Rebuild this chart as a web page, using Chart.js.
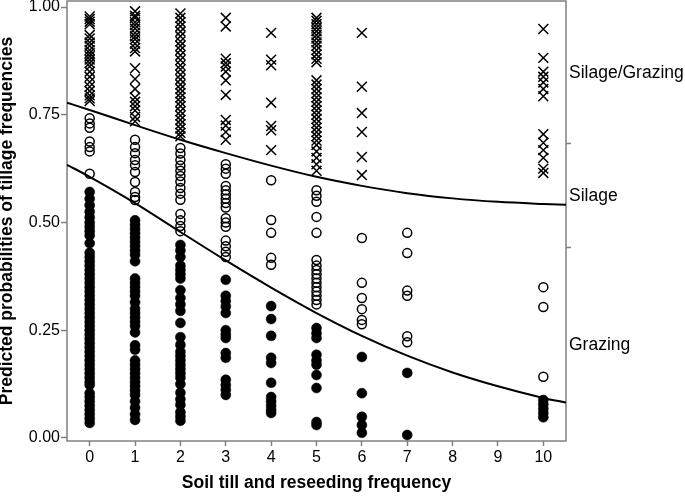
<!DOCTYPE html>
<html>
<head>
<meta charset="utf-8">
<script src="https://cdn.jsdelivr.net/npm/chart.js@4"></script>
<style>
  body { margin: 0; background: #fff; }
  #wrap { width: 685px; height: 497px; }
</style>
</head>
<body>
<div id="wrap"><canvas id="probChart" width="685" height="497"></canvas></div>
<script>
// axis ticks
const xTicks = [0, 1, 2, 3, 4, 5, 6, 7, 8, 9, 10];
const yTicks = [0, 0.25, 0.5, 0.75, 1];
const yTickLabels = ['0.00', '0.25', '0.50', '0.75', '1.00'];

// right side category labels and the boundary ticks between them
const rightTicks = [0.216, 0.443, 0.561, 0.684, 0.847];
const rightTickLabels = ['Grazing', '', 'Silage', '', 'Silage/Grazing'];

// observed frequencies (columns) that carry points
const freqs = [0, 1, 2, 3, 4, 5, 6, 7, 10];

// Silage/Grazing (x marks), one list per frequency column
const silageGrazingVals = [
  [0.978, 0.972, 0.966, 0.96, 0.935, 0.927, 0.918, 0.91, 0.9, 0.893, 0.886, 0.878, 0.87, 0.862, 0.85, 0.838, 0.826, 0.815, 0.805, 0.795, 0.788, 0.782],
  [0.99, 0.98, 0.975, 0.965, 0.958, 0.95, 0.94, 0.932, 0.925, 0.915, 0.905, 0.897, 0.858, 0.833, 0.81, 0.79, 0.78, 0.77, 0.76, 0.745, 0.735],
  [0.985, 0.975, 0.965, 0.955, 0.943, 0.932, 0.92, 0.91, 0.9, 0.888, 0.877, 0.865, 0.855, 0.843, 0.832, 0.82, 0.81, 0.8, 0.79, 0.78, 0.77, 0.758, 0.748, 0.738, 0.728, 0.718, 0.708, 0.7],
  [0.975, 0.955, 0.88, 0.87, 0.862, 0.85, 0.83, 0.796, 0.738, 0.725, 0.71, 0.692],
  [0.94, 0.878, 0.865, 0.778, 0.724, 0.714, 0.668],
  [0.975, 0.968, 0.96, 0.952, 0.944, 0.935, 0.927, 0.918, 0.91, 0.9, 0.89, 0.88, 0.872, 0.83, 0.82, 0.81, 0.8, 0.79, 0.78, 0.77, 0.76, 0.75, 0.74, 0.73, 0.72, 0.71, 0.7, 0.69, 0.68, 0.665, 0.65, 0.635, 0.62],
  [0.94, 0.815, 0.754, 0.71, 0.652, 0.61],
  [],
  [0.949, 0.882, 0.85, 0.838, 0.825, 0.81, 0.793, 0.705, 0.685, 0.668, 0.65, 0.625, 0.615]
];

// Silage (open circles)
const silageVals = [
  [0.742, 0.73, 0.72, 0.688, 0.675, 0.665, 0.613],
  [0.692, 0.675, 0.661, 0.645, 0.633, 0.617, 0.594, 0.571, 0.559, 0.552],
  [0.673, 0.66, 0.645, 0.632, 0.62, 0.608, 0.595, 0.58, 0.567, 0.553, 0.52, 0.505, 0.492, 0.48],
  [0.635, 0.625, 0.613, 0.585, 0.575, 0.565, 0.555, 0.545, 0.535, 0.51, 0.5, 0.49, 0.458, 0.445, 0.432, 0.42],
  [0.598, 0.506, 0.476, 0.418, 0.402],
  [0.575, 0.562, 0.548, 0.513, 0.476, 0.413, 0.4, 0.39, 0.38, 0.37, 0.36, 0.35, 0.34, 0.33, 0.32, 0.31],
  [0.464, 0.36, 0.325, 0.299, 0.274, 0.264],
  [0.476, 0.429, 0.342, 0.33, 0.236, 0.222],
  [0.35, 0.304, 0.142]
];

// Grazing (filled circles)
const grazingVals = [
  [0.571, 0.555, 0.54, 0.525, 0.512, 0.5, 0.49, 0.48, 0.47, 0.452, 0.43, 0.42, 0.41, 0.4, 0.39, 0.38, 0.37, 0.36, 0.35, 0.34, 0.33, 0.32, 0.31, 0.3, 0.29, 0.28, 0.27, 0.26, 0.25, 0.24, 0.23, 0.22, 0.21, 0.2, 0.19, 0.18, 0.17, 0.16, 0.15, 0.14, 0.13, 0.123, 0.104, 0.095, 0.085, 0.075, 0.065, 0.055, 0.045, 0.035],
  [0.505, 0.495, 0.485, 0.475, 0.465, 0.455, 0.445, 0.435, 0.425, 0.41, 0.37, 0.36, 0.35, 0.34, 0.33, 0.315, 0.3, 0.29, 0.28, 0.27, 0.26, 0.245, 0.215, 0.205, 0.18, 0.17, 0.16, 0.15, 0.14, 0.13, 0.12, 0.11, 0.1, 0.085, 0.07, 0.055, 0.042],
  [0.448, 0.435, 0.42, 0.4, 0.39, 0.38, 0.37, 0.343, 0.325, 0.31, 0.295, 0.267, 0.234, 0.216, 0.2, 0.19, 0.18, 0.17, 0.16, 0.15, 0.14, 0.125, 0.105, 0.09, 0.077, 0.06, 0.05, 0.04],
  [0.367, 0.33, 0.318, 0.305, 0.29, 0.25, 0.24, 0.232, 0.197, 0.186, 0.135, 0.123, 0.112, 0.1],
  [0.306, 0.276, 0.237, 0.186, 0.174, 0.128, 0.095, 0.085, 0.075, 0.065, 0.058],
  [0.255, 0.243, 0.232, 0.193, 0.18, 0.17, 0.146, 0.116, 0.037, 0.03],
  [0.188, 0.104, 0.049, 0.03, 0.012],
  [0.151, 0.007],
  [0.088, 0.078, 0.068, 0.058, 0.048]
];

// fitted cumulative probability curves
const curveX = [-0.5, 0, 1, 2, 3, 4, 5, 6, 7, 8, 9, 10, 10.5];
const upperCurve = [0.778, 0.761, 0.726, 0.692, 0.661, 0.632, 0.606, 0.585, 0.568, 0.556, 0.548, 0.543, 0.541];
const lowerCurve = [0.634, 0.606, 0.545, 0.478, 0.412, 0.349, 0.29, 0.237, 0.191, 0.152, 0.12, 0.093, 0.082];

const FONT = "'Liberation Sans', Arial, Helvetica, sans-serif";
const FRAME = '#808080';

function toPoints(vals) {
  const pts = [];
  freqs.forEach((f, i) => {
    vals[i].forEach(v => pts.push({ x: f, y: v }));
  });
  return pts;
}

function curvePoints(ys) {
  return curveX.map((x, i) => ({ x: x, y: ys[i] }));
}

// grey box round the plot area
const framePlugin = {
  id: 'frame',
  beforeDatasetsDraw(chart) {
    const a = chart.chartArea;
    const ctx = chart.ctx;
    ctx.save();
    ctx.strokeStyle = FRAME;
    ctx.lineWidth = 1.5;
    ctx.strokeRect(a.left, a.top, a.right - a.left, a.bottom - a.top);
    ctx.restore();
  }
};

const ctx = document.getElementById('probChart').getContext('2d');
new Chart(ctx, {
  type: 'scatter',
  data: {
    datasets: [
      {
        type: 'line', label: 'upper', data: curvePoints(upperCurve),
        borderColor: '#000', borderWidth: 2, pointRadius: 0, fill: false,
        cubicInterpolationMode: 'monotone'
      },
      {
        type: 'line', label: 'lower', data: curvePoints(lowerCurve),
        borderColor: '#000', borderWidth: 2, pointRadius: 0, fill: false,
        cubicInterpolationMode: 'monotone'
      },
      {
        label: 'Silage/Grazing', data: toPoints(silageGrazingVals),
        pointStyle: 'crossRot', pointRadius: 7, borderColor: '#000', borderWidth: 1.5,
        backgroundColor: 'transparent'
      },
      {
        label: 'Silage', data: toPoints(silageVals),
        pointStyle: 'circle', pointRadius: 4.5, borderColor: '#000', borderWidth: 1.5,
        backgroundColor: 'transparent'
      },
      {
        label: 'Grazing', data: toPoints(grazingVals),
        pointStyle: 'circle', pointRadius: 5, borderColor: '#000', borderWidth: 0.5,
        backgroundColor: '#000'
      }
    ]
  },
  options: {
    responsive: false,
    animation: false,
    layout: { autoPadding: false, padding: { top: 1, left: 0, right: 0, bottom: 0 } },
    plugins: {
      legend: { display: false },
      tooltip: { enabled: false }
    },
    scales: {
      x: {
        type: 'linear',
        min: -0.5,
        max: 10.5,
        afterBuildTicks: scale => { scale.ticks = xTicks.map(v => ({ value: v })); },
        afterFit: scale => {
          scale.height = 56;
          scale.paddingLeft = 0;
          scale.paddingRight = 0;
        },
        ticks: {
          autoSkip: false, maxRotation: 0, padding: 2, color: '#000',
          font: { family: FONT, size: 16 },
          callback: v => String(v)
        },
        grid: { drawOnChartArea: false, tickLength: 5, tickColor: FRAME, tickWidth: 1.5 },
        border: { display: false },
        title: {
          display: true,
          text: 'Soil till and reseeding frequency',
          color: '#000',
          font: { family: FONT, size: 17.5, weight: 'bold' },
          padding: { top: 3.5, bottom: 3.5 }
        }
      },
      y: {
        type: 'linear',
        position: 'left',
        min: -0.007,
        max: 1.014,
        afterBuildTicks: scale => { scale.ticks = yTicks.map(v => ({ value: v })); },
        afterFit: scale => {
          scale.width = 67;
          scale.paddingTop = 0;
          scale.paddingBottom = 0;
        },
        ticks: {
          autoSkip: false, padding: 1, color: '#000',
          font: { family: FONT, size: 16 },
          callback: (v, i) => yTickLabels[i]
        },
        grid: { drawOnChartArea: false, tickLength: 6, tickColor: FRAME, tickWidth: 1.5 },
        border: { display: false },
        title: {
          display: true,
          text: 'Predicted probabilities of tillage frequencies',
          color: '#000',
          font: { family: FONT, size: 17.5, weight: 'bold', lineHeight: 0.8 },
          padding: 0
        }
      },
      yr: {
        type: 'linear',
        position: 'right',
        min: -0.007,
        max: 1.014,
        afterBuildTicks: scale => { scale.ticks = rightTicks.map(v => ({ value: v })); },
        afterFit: scale => {
          scale.width = 119;
          scale.paddingTop = 0;
          scale.paddingBottom = 0;
        },
        ticks: {
          autoSkip: false, padding: -2, color: '#000',
          font: { family: FONT, size: 17.5 },
          callback: (v, i) => rightTickLabels[i]
        },
        grid: {
          drawOnChartArea: false, tickLength: 5, tickWidth: 1.5,
          tickColor: c => (rightTickLabels[c.index] ? 'rgba(0,0,0,0)' : FRAME)
        },
        border: { display: false }
      }
    }
  },
  plugins: [framePlugin]
});
</script>
</body>
</html>
